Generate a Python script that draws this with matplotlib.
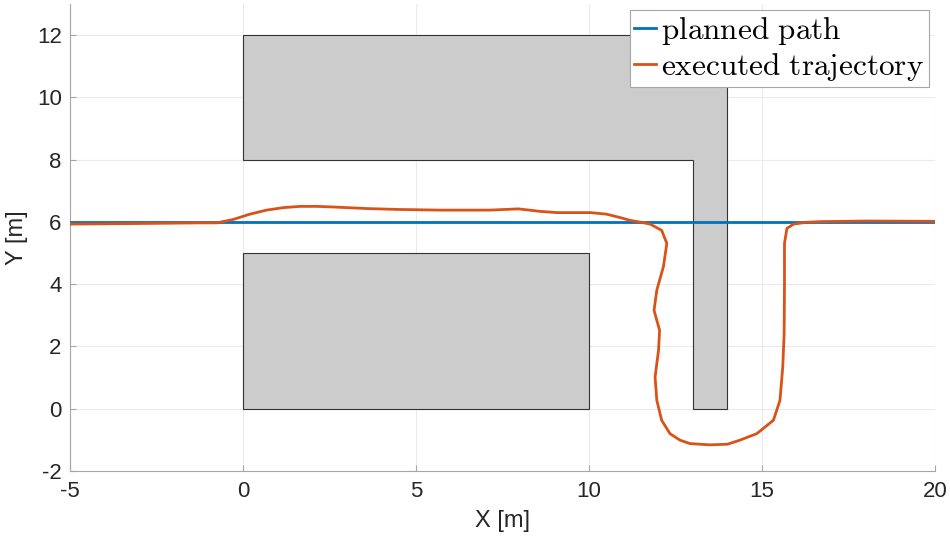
import numpy as np
import matplotlib
matplotlib.use('Agg')
from matplotlib import pyplot as plt
from matplotlib.patches import Polygon

# planned path (straight line at y = 6)
plan_x = [-5, 20]
plan_y = [6, 6]

# executed trajectory
traj_x = [-5.0, -3.0, -1.24, -0.76, -0.28, 0.20, 0.68, 1.17, 1.65, 2.13, 2.61, 3.58, 4.54, 5.69,
          6.27, 7.14, 7.96, 8.58, 9.07, 10.03, 10.51, 10.90, 11.19, 11.50, 11.77, 12.10, 12.25,
          12.15, 11.96, 11.88, 12.04, 12.01, 11.91, 11.96, 12.10, 12.34, 12.63, 12.92, 13.5,
          14.0, 14.36, 14.85, 15.33, 15.52, 15.60, 15.64, 15.65, 15.65, 15.72, 15.91, 16.29,
          16.68, 18.0, 20.0]
traj_y = [5.93, 5.95, 5.97, 5.97, 6.08, 6.25, 6.38, 6.46, 6.50, 6.50, 6.48, 6.43, 6.40, 6.38,
          6.38, 6.38, 6.42, 6.34, 6.30, 6.30, 6.25, 6.14, 6.05, 5.99, 5.93, 5.73, 5.31,
          4.56, 3.81, 3.16, 2.52, 1.88, 1.02, 0.27, -0.37, -0.80, -1.01, -1.12, -1.16,
          -1.14, -1.01, -0.80, -0.37, 0.27, 1.34, 2.42, 4.02, 5.31, 5.79, 5.93, 5.99,
          6.01, 6.03, 6.02]

# obstacles
obs_lower_x = [0, 10, 10, 0]
obs_lower_y = [0, 0, 5, 5]
obs_upper_x = [0, 13, 13, 14, 14, 0]
obs_upper_y = [8, 8, 0, 0, 12, 12]

plt.rcParams['font.family'] = ['Liberation Sans', 'DejaVu Sans']
plt.rcParams['mathtext.fontset'] = 'cm'
plt.rcParams['axes.unicode_minus'] = False

fig = plt.figure(figsize=(9.5, 5.43), dpi=100)
ax = fig.add_axes([0.0737, 0.1326, 0.9105, 0.86])

for ox, oy in [(obs_lower_x, obs_lower_y), (obs_upper_x, obs_upper_y)]:
    ax.add_patch(Polygon(np.column_stack([ox, oy]), closed=True, facecolor='#cccccc',
                         edgecolor='#333333', linewidth=0.8, zorder=2))

ax.plot(plan_x, plan_y, color='#0072BD', linewidth=2.0, zorder=3, label=r'$\mathrm{planned\ path}$')
ax.plot(traj_x, traj_y, color='#D95319', linewidth=2.0, zorder=4,
        solid_joinstyle='round', label=r'$\mathrm{executed\ trajectory}$')

ax.set_xlim(-5, 20)
ax.set_ylim(-2, 13)
ax.set_xticks([-5, 0, 5, 10, 15, 20])
ax.set_yticks([-2, 0, 2, 4, 6, 8, 10, 12])
ax.grid(True, color='#ebebeb', linewidth=0.8, zorder=0)
ax.set_axisbelow(True)

for s in ['top', 'right']:
    ax.spines[s].set_visible(False)
for s in ['left', 'bottom']:
    ax.spines[s].set_color('#a6a6a6')
    ax.spines[s].set_linewidth(0.8)
ax.tick_params(direction='in', length=4, color='#a6a6a6', labelsize=16, labelcolor='#262626')
ax.tick_params(axis='x', pad=7)
ax.tick_params(axis='y', pad=6)

ax.set_xlabel('X [m]', fontsize=17, color='#262626', labelpad=6)
ax.set_ylabel('Y [m]', fontsize=17, color='#262626', labelpad=6)

leg = ax.legend(loc='upper right', fontsize=22.5, handlelength=0.7, handletextpad=0.15,
                borderaxespad=0.2, borderpad=0.15, labelspacing=0.12, fancybox=False,
                framealpha=1.0, edgecolor='#a6a6a6')
leg.get_frame().set_linewidth(0.8)

fig.savefig('out.png', dpi=100)
